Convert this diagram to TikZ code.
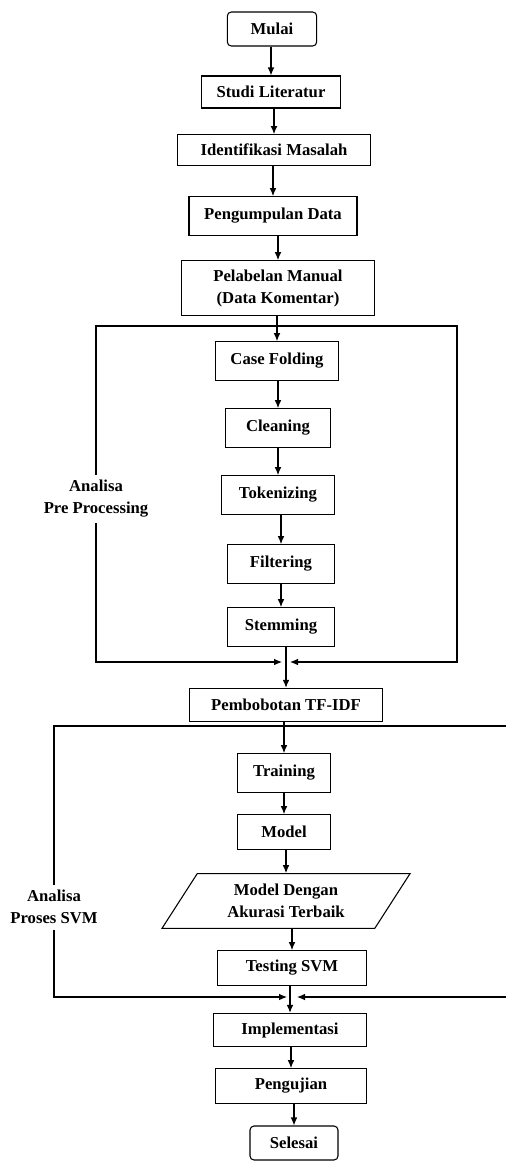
\documentclass[tikz,border=0pt]{standalone}
\usepackage{fontspec}
\setmainfont{Liberation Serif}
\usetikzlibrary{arrows.meta,shapes.geometric}
\tikzset{
    process-box/.style = {draw, rectangle, fill=white, line width=0.8pt, inner sep=2pt, align=center, font=\fontsize{12.5}{16.5}\selectfont\bfseries},
    terminal-box/.style = {process-box, rounded corners=3pt},
    io-box/.style = {process-box, trapezium, trapezium left angle=48, trapezium right angle=132, trapezium stretches body},
    frame-label/.style = {align=center, inner sep=4pt, font=\fontsize{12.5}{16.5}\selectfont\bfseries},
    flow-arrow/.style = {line width=0.8pt, -{Latex[length=6pt,width=5pt]}},
}
\begin{document}
\begin{tikzpicture}[x=0.75pt, y=-0.75pt]
\useasboundingbox (0,0) rectangle (506,1161);
\clip (0,0) rectangle (506,1161);

% main steps
\node[terminal-box, minimum width=67pt, minimum height=25.5pt] (mulai) at (272,29) {Mulai};
\node[process-box, minimum width=104pt, minimum height=24pt] (studi) at (271,92) {Studi Literatur};
\node[process-box, minimum width=145pt, minimum height=23pt] (identifikasi) at (274,150) {Identifikasi Masalah};
\node[process-box, minimum width=126pt, minimum height=29pt] (pengumpulan) at (273,216) {Pengumpulan Data};
\node[process-box, minimum width=145pt, minimum height=41pt] (pelabelan) at (278,288) {Pelabelan Manual\\(Data Komentar)};

% pre processing
\node[process-box, minimum width=92pt, minimum height=29pt] (casefold) at (277,361) {Case Folding};
\node[process-box, minimum width=79pt, minimum height=29pt] (cleaning) at (278,428) {Cleaning};
\node[process-box, minimum width=85pt, minimum height=29pt] (tokenizing) at (278,495) {Tokenizing};
\node[process-box, minimum width=80pt, minimum height=29pt] (filtering) at (281,564) {Filtering};
\node[process-box, minimum width=80pt, minimum height=29pt] (stemming) at (281,627) {Stemming};
\node[frame-label] (preLabel) at (96,499) {Analisa\\Pre Processing};

\node[process-box, minimum width=145pt, minimum height=25pt] (tfidf) at (286,705) {Pembobotan TF-IDF};

% proses SVM
\node[process-box, minimum width=70pt, minimum height=29pt] (training) at (284,773) {Training};
\node[process-box, minimum width=70pt, minimum height=26pt] (model) at (284,832) {Model};
\node[io-box, minimum width=186pt, minimum height=41pt] (akurasi) at (286,901) {Model Dengan\\Akurasi Terbaik};
\node[process-box, minimum width=112pt, minimum height=26pt] (testing) at (292,968) {Testing SVM};
\node[frame-label] (svmLabel) at (54,907) {Analisa\\Proses SVM};

\node[process-box, minimum width=115pt, minimum height=25pt] (implementasi) at (290,1030) {Implementasi};
\node[process-box, minimum width=113pt, minimum height=26pt] (pengujian) at (291,1086) {Pengujian};
\node[terminal-box, minimum width=66pt, minimum height=25.5pt] (selesai) at (294,1143) {Selesai};

% frame corners
\coordinate (preTL) at (96,326);
\coordinate (preTR) at (457,326);
\coordinate (preBL) at (96,662);
\coordinate (preBR) at (457,662);
\coordinate (preJoinL) at (282,662);
\coordinate (preJoinR) at (290,662);
\coordinate (svmTL) at (54,726);
\coordinate (svmTR) at (515,726);
\coordinate (svmBL) at (54,997);
\coordinate (svmBR) at (515,997);
\coordinate (svmJoinL) at (287,997);
\coordinate (svmJoinR) at (297,997);

% arrows
\draw[flow-arrow] (mulai.south -| studi.north) -- (studi.north);
\draw[flow-arrow] (studi.south -| identifikasi.north) -- (identifikasi.north);
\draw[flow-arrow] (identifikasi.south -| pengumpulan.north) -- (pengumpulan.north);
\draw[flow-arrow] (pengumpulan.south -| pelabelan.north) -- (pelabelan.north);
\draw[flow-arrow] (pelabelan.south -| casefold.north) -- (casefold.north);
\draw[flow-arrow] (casefold.south -| cleaning.north) -- (cleaning.north);
\draw[flow-arrow] (cleaning.south -| tokenizing.north) -- (tokenizing.north);
\draw[flow-arrow] (tokenizing.south -| filtering.north) -- (filtering.north);
\draw[flow-arrow] (filtering.south -| stemming.north) -- (stemming.north);
\draw[flow-arrow] (stemming.south -| tfidf.north) -- (tfidf.north);
\draw[flow-arrow] (tfidf.south -| training.north) -- (training.north);
\draw[flow-arrow] (training.south -| model.north) -- (model.north);
\draw[flow-arrow] (model.south -| akurasi.north) -- (akurasi.north);
\draw[flow-arrow] (akurasi.south -| testing.north) -- (testing.north);
\draw[flow-arrow] (testing.south -| implementasi.north) -- (implementasi.north);
\draw[flow-arrow] (implementasi.south -| pengujian.north) -- (pengujian.north);
\draw[flow-arrow] (pengujian.south -| selesai.north) -- (selesai.north);

% frames
\draw[flow-arrow] (preLabel.north) -- (preTL) -- (preTR) -- (preBR) -- (preJoinR);
\draw[flow-arrow] (preLabel.south) -- (preBL) -- (preJoinL);
\draw[flow-arrow] (svmLabel.north) -- (svmTL) -- (svmTR) -- (svmBR) -- (svmJoinR);
\draw[flow-arrow] (svmLabel.south) -- (svmBL) -- (svmJoinL);
\end{tikzpicture}
\end{document}
